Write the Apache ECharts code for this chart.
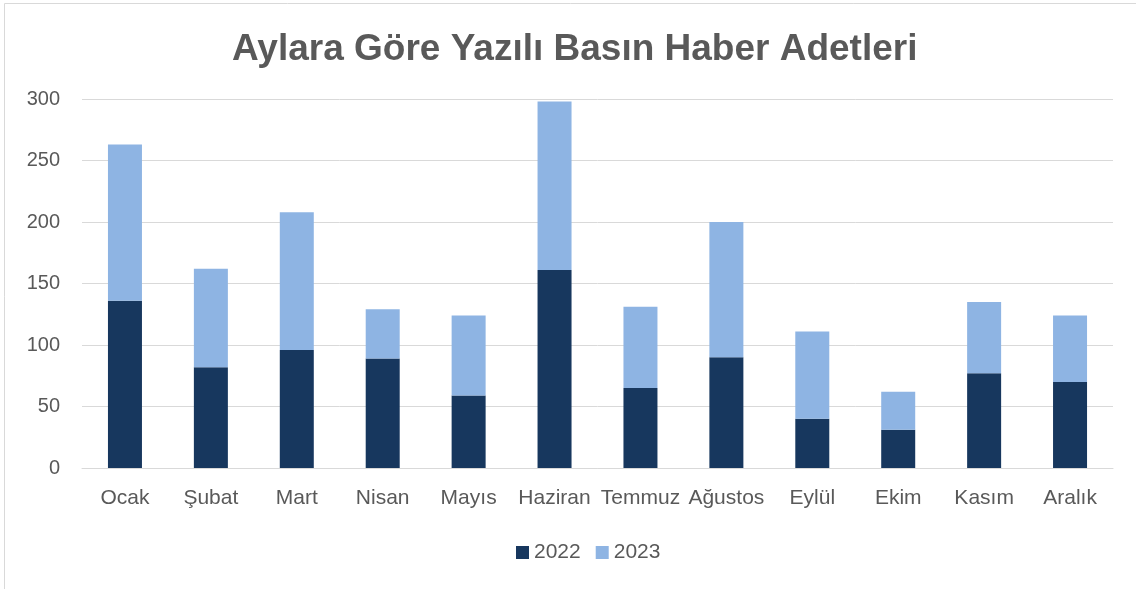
<!DOCTYPE html>
<html>
<head>
<meta charset="UTF-8">
<title>Aylara Göre Yazılı Basın Haber Adetleri</title>
<script type="text/javascript" src="https://cdn.jsdelivr.net/npm/echarts@6/dist/echarts.min.js"></script>
<style>
  html, body { margin: 0; padding: 0; background: #fff; }
</style>
</head>
<body>
	<div id="box" style="width:1136px;height:589px;"></div>
	<script type="text/javascript">
		var months = ['Ocak', 'Şubat', 'Mart', 'Nisan', 'Mayıs', 'Haziran', 'Temmuz', 'Ağustos', 'Eylül', 'Ekim', 'Kasım', 'Aralık'];
		var data2022 = [136, 82, 96, 89, 59, 161, 65, 90, 40, 31, 77, 70];
		var data2023 = [127, 80, 112, 40, 65, 137, 66, 110, 71, 31, 58, 54];

		var mychart = echarts.init(document.getElementById('box'));
		var option = {
			animation: false,
			graphic: [{
				type: 'rect',
				shape: { x: 4.5, y: 3.5, width: 1200, height: 700 },
				style: { fill: 'none', stroke: '#d9d9d9', lineWidth: 1 },
				silent: true
			}],
			title: {
				text: 'Aylara Göre Yazılı Basın Haber Adetleri',
				left: 227,
				top: 26,
				textStyle: {
					fontFamily: 'Liberation Sans',
					fontSize: 37,
					fontWeight: 'bold',
					color: '#595959'
				}
			},
			legend: {
				data: ['2022', '2023'],
				bottom: 21,
				left: 511,
				itemWidth: 13,
				itemHeight: 13,
				itemGap: 15,
				icon: 'rect',
				textStyle: { fontFamily: 'Liberation Sans', fontSize: 21, color: '#595959' }
			},
			grid: { left: 82, right: 23, top: 99, bottom: 121 },
			xAxis: {
				type: 'category',
				data: months,
				axisLine: { lineStyle: { color: '#d9d9d9', width: 1 } },
				axisTick: { show: false },
				axisLabel: { fontFamily: 'Liberation Sans', fontSize: 21, color: '#595959', margin: 20, interval: 0 }
			},
			yAxis: {
				type: 'value',
				min: 0,
				max: 300,
				interval: 50,
				axisLine: { show: false },
				axisTick: { show: false },
				splitLine: { lineStyle: { color: '#d9d9d9', width: 1 } },
				axisLabel: { fontFamily: 'Liberation Sans', fontSize: 20, color: '#595959', margin: 22 }
			},
			series: [{
				name: '2022',
				type: 'bar',
				stack: 'toplam',
				barWidth: 34,
				itemStyle: { color: '#17375E' },
				data: data2022
			}, {
				name: '2023',
				type: 'bar',
				stack: 'toplam',
				barWidth: 34,
				itemStyle: { color: '#8EB4E3' },
				data: data2023
			}]
		};
		mychart.setOption(option);
	</script>
</body>
</html>
